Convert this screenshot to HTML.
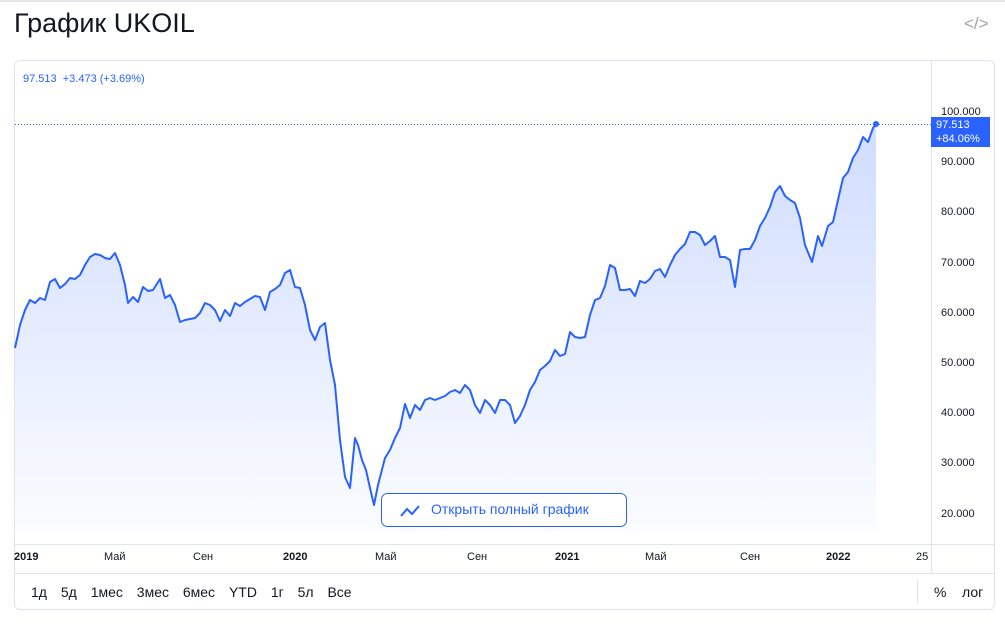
<!DOCTYPE html>
<html><head><meta charset="utf-8"><style>
body{margin:0;width:1005px;height:626px;background:#fff;font-family:"Liberation Sans","DejaVu Sans",sans-serif;position:relative;overflow:hidden}
.t{position:absolute;white-space:nowrap}
</style></head><body>
<div style="position:absolute;left:0;top:0;width:1005px;height:2px;background:#e6e6ea"></div>
<div class="t" style="left:14px;top:8px;font-size:27px;color:#131722">График UKOIL</div>
<div class="t" style="left:964px;top:14px;font-size:17px;color:#a0a3ab">&lt;/&gt;</div>
<div style="position:absolute;left:14px;top:60px;width:981px;height:550px;border:1px solid #e0e3eb;border-radius:6px;box-sizing:border-box"></div>
<svg style="position:absolute;left:0;top:0" width="1005" height="626">
<defs><linearGradient id="g" x1="0" y1="0" x2="0" y2="1"><stop offset="0" stop-color="#2962ff" stop-opacity="0.22"/><stop offset="1" stop-color="#2962ff" stop-opacity="0.02"/></linearGradient></defs>
<line x1="931.5" y1="61" x2="931.5" y2="573" stroke="#e0e3eb"/>
<line x1="15" y1="544.5" x2="995" y2="544.5" stroke="#e0e3eb"/>
<line x1="15" y1="573.5" x2="995" y2="573.5" stroke="#e0e3eb"/>
<line x1="917.5" y1="580" x2="917.5" y2="603" stroke="#e0e3eb"/>
<line x1="15" y1="124.5" x2="931" y2="124.5" stroke="#2962ff" stroke-dasharray="1 2"/>
<polygon fill="url(#g)" points="15,532 15,348 20,325 25,310 30,300 35,303 40,298 45,300 50,282 55,279 60,288 65,284 70,278 75,279 80,275 85,265 90,257 95,254 100,255 105,258 110,259 115,253 120,265 125,285 128,303 133,297 138,302 143,287 148,291 153,290 160,279 165,298 170,295 175,305 180,322 185,320 190,319 195,318 200,313 205,303 210,305 215,310 220,321 225,310 230,316 235,303 240,306 245,302 250,299 255,296 260,297 265,310 270,292 275,289 280,285 285,273 290,270 295,287 300,288 305,305 310,330 315,340 320,327 325,323 330,360 335,385 340,440 345,477 350,488 355,438 358,445 362,460 366,470 370,488 374,505 378,485 385,458 390,450 395,438 400,428 405,404 410,418 415,405 420,410 425,400 430,398 435,400 440,398 445,396 450,392 455,390 460,393 465,385 470,390 475,405 480,413 485,400 490,405 495,413 500,400 505,400 510,405 515,423 520,416 525,405 530,390 535,382 540,370 545,366 550,361 555,350 560,356 565,354 570,332 575,337 580,338 585,337 590,315 595,300 600,298 605,286 610,265 615,268 620,290 625,290 630,289 635,296 640,281 645,283 650,279 655,271 660,269 665,277 670,265 675,255 680,249 685,244 690,232 695,232 700,235 705,245 710,241 715,236 720,257 725,257 730,260 735,287 740,250 745,249 750,249 755,240 760,226 765,218 770,207 775,192 780,186 785,196 790,200 795,203 800,218 805,245 812,262 818,236 822,246 828,226 833,222 838,200 843,178 848,172 853,158 858,150 863,137 868,142 873,128 876,124 876,532"/>
<polyline fill="none" stroke="#2962ff" stroke-width="2" stroke-linejoin="round" points="15,348 20,325 25,310 30,300 35,303 40,298 45,300 50,282 55,279 60,288 65,284 70,278 75,279 80,275 85,265 90,257 95,254 100,255 105,258 110,259 115,253 120,265 125,285 128,303 133,297 138,302 143,287 148,291 153,290 160,279 165,298 170,295 175,305 180,322 185,320 190,319 195,318 200,313 205,303 210,305 215,310 220,321 225,310 230,316 235,303 240,306 245,302 250,299 255,296 260,297 265,310 270,292 275,289 280,285 285,273 290,270 295,287 300,288 305,305 310,330 315,340 320,327 325,323 330,360 335,385 340,440 345,477 350,488 355,438 358,445 362,460 366,470 370,488 374,505 378,485 385,458 390,450 395,438 400,428 405,404 410,418 415,405 420,410 425,400 430,398 435,400 440,398 445,396 450,392 455,390 460,393 465,385 470,390 475,405 480,413 485,400 490,405 495,413 500,400 505,400 510,405 515,423 520,416 525,405 530,390 535,382 540,370 545,366 550,361 555,350 560,356 565,354 570,332 575,337 580,338 585,337 590,315 595,300 600,298 605,286 610,265 615,268 620,290 625,290 630,289 635,296 640,281 645,283 650,279 655,271 660,269 665,277 670,265 675,255 680,249 685,244 690,232 695,232 700,235 705,245 710,241 715,236 720,257 725,257 730,260 735,287 740,250 745,249 750,249 755,240 760,226 765,218 770,207 775,192 780,186 785,196 790,200 795,203 800,218 805,245 812,262 818,236 822,246 828,226 833,222 838,200 843,178 848,172 853,158 858,150 863,137 868,142 873,128 876,124"/>
<circle cx="876" cy="124" r="3" fill="#2962ff"/>
<rect x="381.5" y="493.5" width="245" height="33" rx="6" fill="#fff" stroke="#2962ff"/>
<polyline points="401,516 407,509 412,514 419,506" fill="none" stroke="#2962ff" stroke-width="2"/>
<rect x="931" y="117" width="59" height="30" fill="#2962ff"/>
</svg>
<div class="t" style="left:23px;top:73px;font-size:11px;color:#2962ff">97.513 &nbsp;+3.473 (+3.69%)</div>
<div class="t" style="left:431px;top:501px;font-size:14px;color:#2962ff">Открыть полный график</div>
<div class="t" style="left:936px;top:118px;font-size:11px;color:#fff;line-height:14px">97.513<br>+84.06%</div>
<div style="font-size:11px;color:#131722">
<div class="t" style="left:941px;top:106px">100.000</div>
<div class="t" style="left:941px;top:156px">90.000</div>
<div class="t" style="left:941px;top:206px">80.000</div>
<div class="t" style="left:941px;top:257px">70.000</div>
<div class="t" style="left:941px;top:307px">60.000</div>
<div class="t" style="left:941px;top:357px">50.000</div>
<div class="t" style="left:941px;top:407px">40.000</div>
<div class="t" style="left:941px;top:457px">30.000</div>
<div class="t" style="left:941px;top:508px">20.000</div>
</div>
<div style="font-size:11px;color:#131722">
<div class="t" style="left:14px;top:551px;font-weight:bold">2019</div>
<div class="t" style="left:104px;top:551px">Май</div>
<div class="t" style="left:193px;top:551px">Сен</div>
<div class="t" style="left:283px;top:551px;font-weight:bold">2020</div>
<div class="t" style="left:375px;top:551px">Май</div>
<div class="t" style="left:467px;top:551px">Сен</div>
<div class="t" style="left:555px;top:551px;font-weight:bold">2021</div>
<div class="t" style="left:645px;top:551px">Май</div>
<div class="t" style="left:740px;top:551px">Сен</div>
<div class="t" style="left:826px;top:551px;font-weight:bold">2022</div>
<div class="t" style="left:916px;top:551px">25</div>
</div>
<div class="t" style="left:31px;top:584px;font-size:14px;color:#131722;word-spacing:10px">1д 5д 1мес 3мес 6мес YTD 1г 5л Все</div>
<div class="t" style="left:934px;top:584px;font-size:14px;color:#131722">%</div>
<div class="t" style="left:962px;top:584px;font-size:14px;color:#131722">лог</div>
</body></html>
